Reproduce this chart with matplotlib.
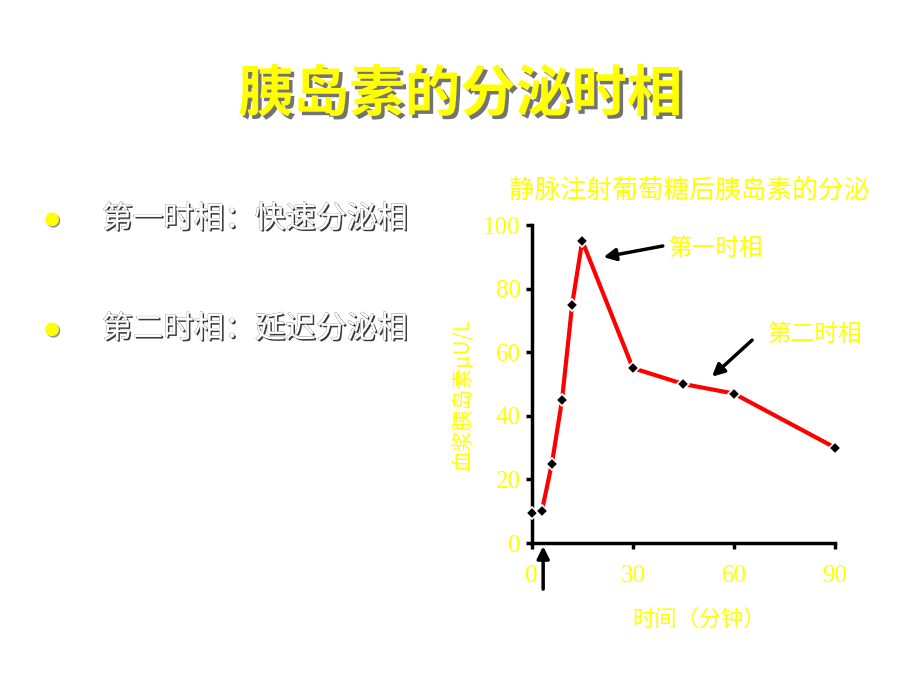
import matplotlib.pyplot as plt
import matplotlib.patheffects as pe

plt.rcParams['font.family'] = ['Noto Sans CJK SC', 'DejaVu Sans']

# data
minutes = [0, 3, 6, 9, 12, 15, 30, 45, 60, 90]
insulin = [9.5, 10, 25, 45, 75, 95, 55, 50, 47, 30]
x_ticks = [0, 30, 60, 90]
y_ticks = [0, 20, 40, 60, 80, 100]
bullets = ['第一时相：快速分泌相', '第二时相：延迟分泌相']

yellow = '#FFFF00'
num_font = 'Liberation Serif'

fig = plt.figure(figsize=(9.2, 6.9), dpi=100)
fig.patch.set_facecolor('white')

# slide title
fig.text(0.5, 0.862, '胰岛素的分泌时相', ha='center', va='center', fontsize=40,
         fontweight='bold', color=yellow,
         path_effects=[pe.withSimplePatchShadow(offset=(2.5, -2.5), shadow_rgbFace='black', alpha=0.55)])

# bullet list
for i, txt in enumerate(bullets):
    yb = 1 - (219 + i * 110) / 690
    fig.text(52 / 920, yb, '●', ha='center', va='center', fontsize=13, color=yellow,
             family=['DejaVu Sans'],
             path_effects=[pe.withSimplePatchShadow(offset=(1, -1), shadow_rgbFace='#777777', alpha=0.8)])
    fig.text(102 / 920, yb, txt, ha='left', va='center', fontsize=22, color='white',
             path_effects=[pe.withSimplePatchShadow(offset=(1.2, -1.2), shadow_rgbFace='#222222', alpha=0.9),
                           pe.withStroke(linewidth=0.4, foreground='#666666')])

# chart
ax = fig.add_axes([531.7 / 920, 1 - 543 / 690, 303.3 / 920, 318 / 690])
ax.set_facecolor('none')
ax.plot(minutes, insulin, color='red', lw=3, solid_joinstyle='round', zorder=2, clip_on=False)
ax.plot(minutes, insulin, ls='none', marker='D', ms=6, mfc='black', mec='white', mew=1.2,
        zorder=3, clip_on=False)

ax.set_xlim(0, 90)
ax.set_ylim(0, 100)
ax.set_xticks(x_ticks)
ax.set_yticks(y_ticks)
for s in ['top', 'right']:
    ax.spines[s].set_visible(False)
for s in ['left', 'bottom']:
    ax.spines[s].set_linewidth(2.5)
    ax.spines[s].set_color('black')
ax.tick_params(axis='both', colors='black', width=2.5, length=4, labelcolor=yellow, labelsize=18)
ax.tick_params(axis='x', pad=12)
ax.tick_params(axis='y', pad=4)
for lab in ax.get_xticklabels() + ax.get_yticklabels():
    lab.set_family(num_font)

ax.set_title('静脉注射葡萄糖后胰岛素的分泌', color=yellow, fontsize=18.5, pad=20, x=0.52)
ax.set_xlabel('时间（分钟）', color=yellow, fontsize=16)
ax.xaxis.set_label_coords(0.55, -0.205)
ax.set_ylabel('血浆胰岛素μU/L', color=yellow, fontsize=15)
ax.yaxis.set_label_coords(-0.19, 0.465)

arrow = dict(arrowstyle='-|>', color='black', lw=2.5, mutation_scale=18, shrinkA=0, shrinkB=0)

# phase annotations
ax.annotate('', xy=(21.3, 89.9), xytext=(38.9, 93.4), arrowprops=arrow)
ax.text(40.7, 92.5, '第一时相', color=yellow, fontsize=17, ha='left', va='center')
ax.annotate('', xy=(53.5, 52.3), xytext=(65.4, 63.8), arrowprops=arrow)
ax.text(70, 65.7, '第二时相', color=yellow, fontsize=17, ha='left', va='center')
# glucose injection arrow
ax.annotate('', xy=(3.4, -1), xytext=(3.4, -14.5), annotation_clip=False, arrowprops=arrow)

fig.savefig('out.png', dpi=100, facecolor='white')
